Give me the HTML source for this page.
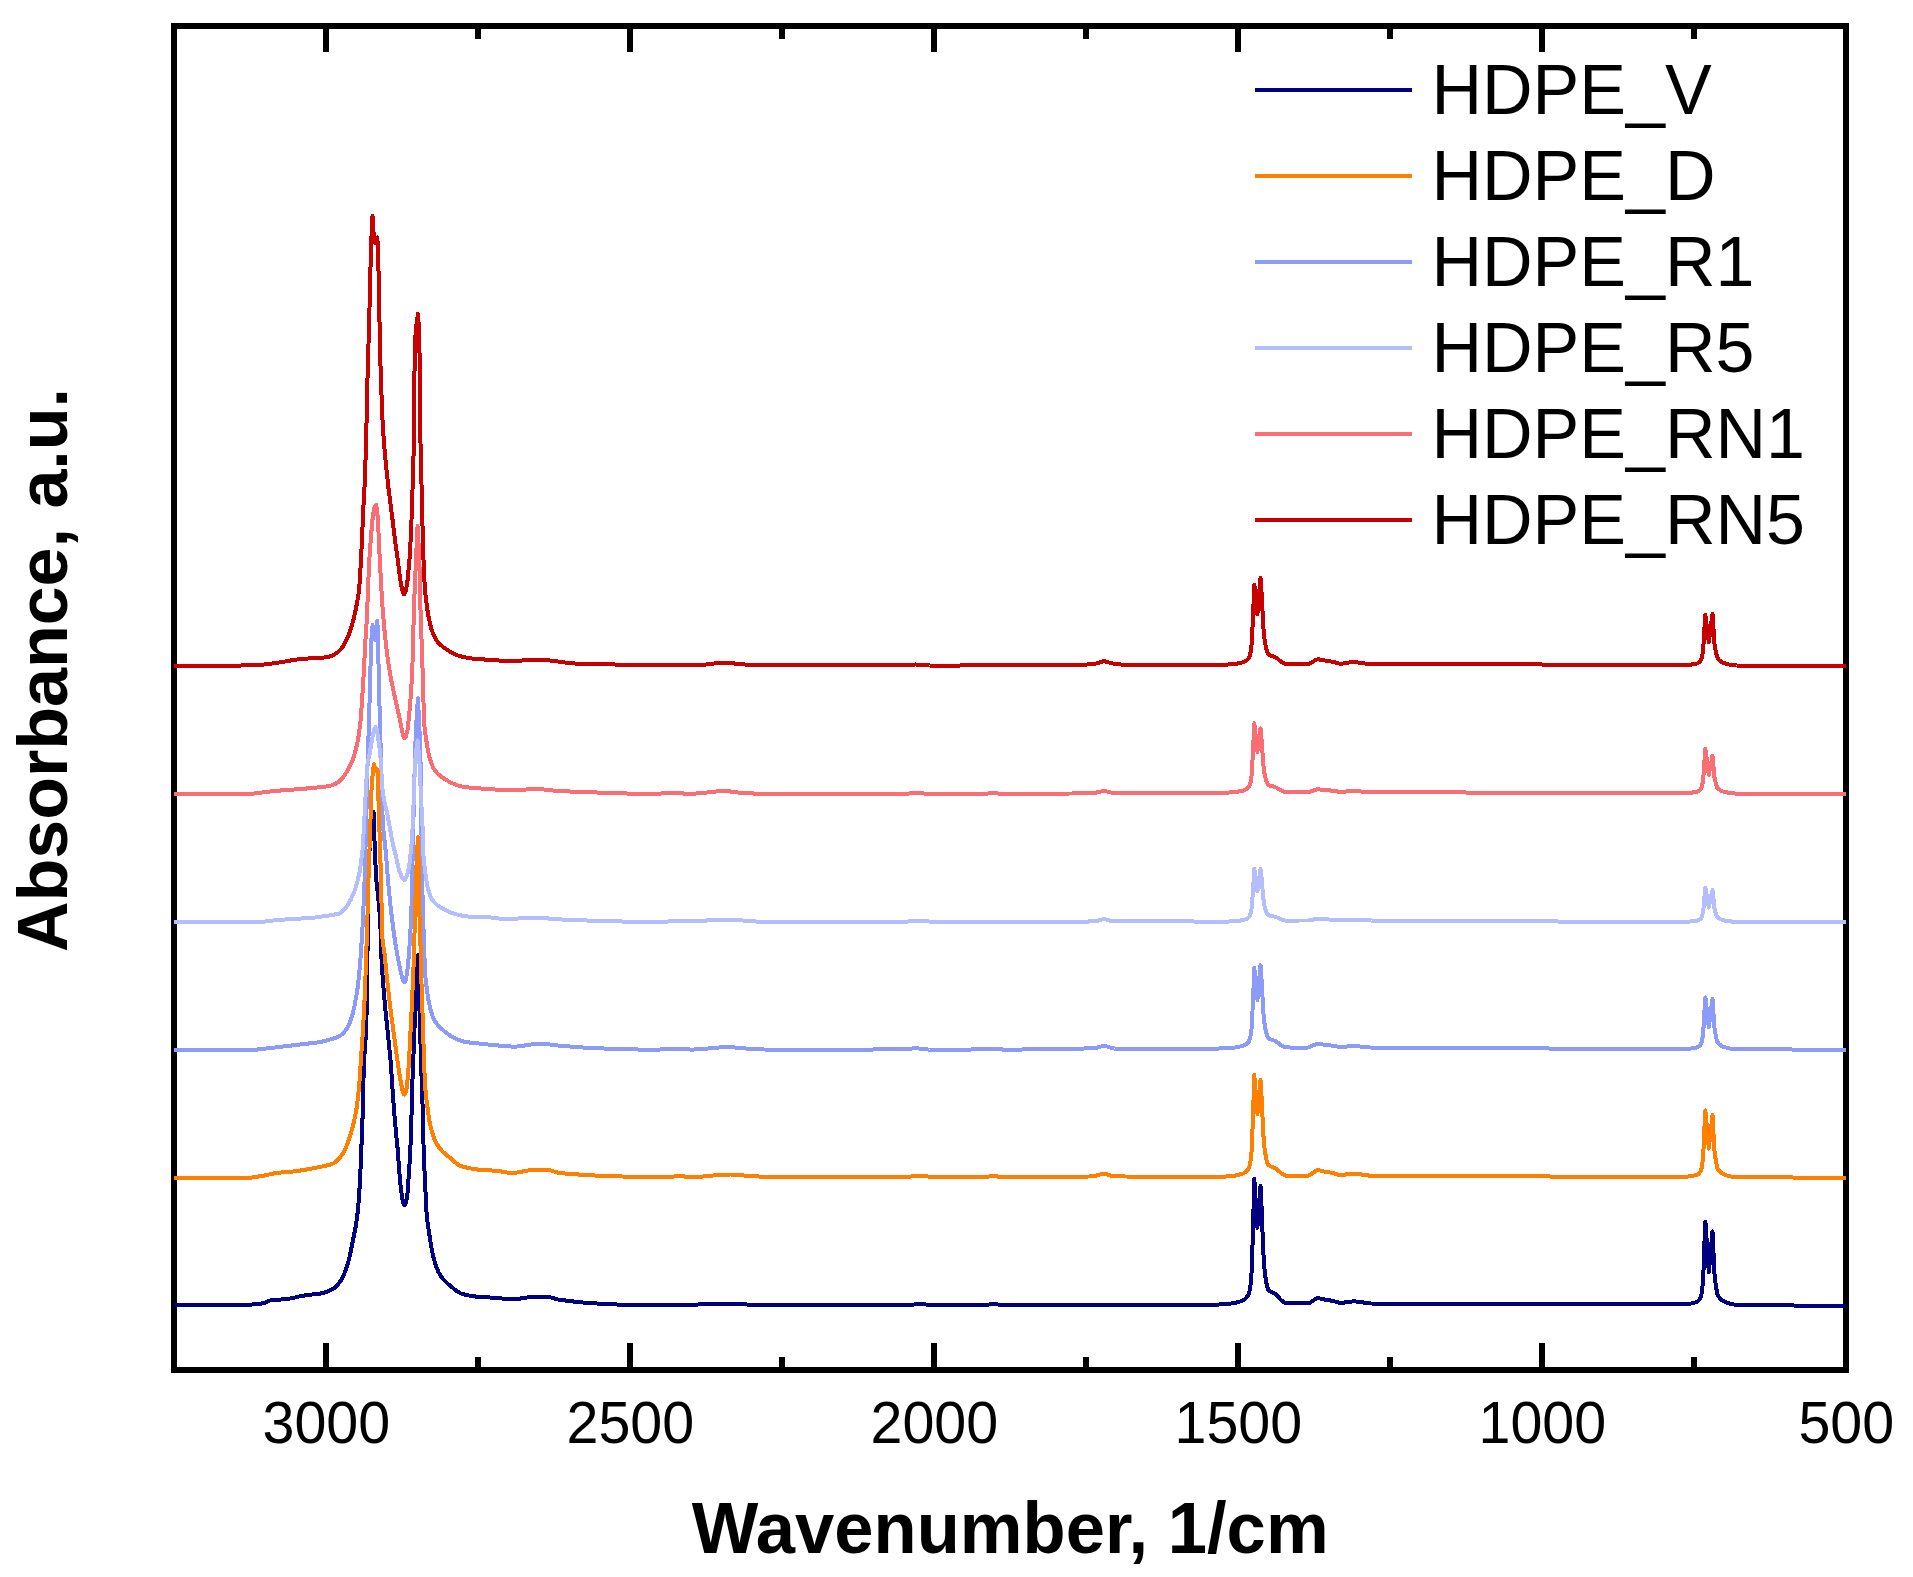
<!DOCTYPE html>
<html lang="en"><head><meta charset="utf-8"><title>FTIR spectra of HDPE samples</title>
<style>html,body{margin:0;padding:0;background:#fff}body{width:1913px;height:1577px;overflow:hidden}svg{display:block}</style>
</head><body>
<svg width="1913" height="1577" viewBox="0 0 1913 1577">
<rect width="1913" height="1577" fill="#fff"/>
<g fill="none" stroke="#000" stroke-width="6" shape-rendering="crispEdges">
<rect x="174" y="26" width="1672" height="1344"/>
<path d="M326 1370V1343M326 26V52M630 1370V1343M630 26V52M934 1370V1343M934 26V52M1238 1370V1343M1238 26V52M1542 1370V1343M1542 26V52M478 1370V1357M478 26V39M782 1370V1357M782 26V39M1086 1370V1357M1086 26V39M1390 1370V1357M1390 26V39M1694 1370V1357M1694 26V39"/>
</g>
<g fill="none" stroke-width="4" stroke-linejoin="round" stroke-linecap="butt" shape-rendering="crispEdges">
<path stroke="#8c9af8" d="M174 1050.5L239.2 1050.4L245.8 1050.4L249 1050.3L255 1049.8L273.2 1047.7L299.8 1044.5L312 1043.1L317.2 1042.5L321.5 1041.8L324.8 1041L335 1038.1L337 1037.4L338.8 1036.5L340.2 1035.6L341.5 1034.7L343 1033.3L344.2 1032L346.5 1029.1L347.5 1027.5L348.5 1025.5L349.8 1022.6L350.8 1020L351.8 1016.8L352.8 1013.2L354.5 1005.8L356.5 995L357.8 986.5L358.8 977.8L360 964.4L361.2 948.5L362.2 932.9L363.2 914L364.5 882.6L366.2 823.9L367.5 766.4L369.2 715L370.8 655.3L371.7 634L372.6 625L375 640L377.4 620.9L378.1 645.5L379.1 691.2L381.2 768.1L382 800.6L382.5 814.4L383 824.5L383.8 833.9L385.2 846.8L385.8 851.9L387.8 877.7L388.5 886.1L390 901.1L391.5 914.4L393.5 930.4L395.2 942.5L397.2 954.2L400 968.4L401.5 975.2L402.5 979L403 980.4L403.8 981.7L404.2 982.1L404.5 982L404.8 981.8L405.2 981L405.8 979.9L406.2 977.9L407.2 972L408.2 962.9L409.2 950.6L411 921.5L411.3 915L414.5 773.7L415.2 748.8L416.2 725L417.9 698.3L419.3 725L420 743.4L420.5 761.1L421 789.9L421.7 851L422 869.9L422.5 894.4L423 913.2L423.8 937.7L424.8 965.9L425.2 975L426 982.7L428.2 999L429.8 1006.4L431 1011.2L432.5 1016L433.5 1018.5L435 1021.2L437 1024.1L438.5 1025.8L440 1027.4L443 1030.1L448.5 1034.5L451.8 1036.6L455.2 1038.5L458.5 1039.9L462.2 1041.2L465.5 1041.9L470.2 1042.6L489.8 1044.7L504.8 1046.1L510.8 1046.5L515 1046.6L517.5 1046.5L520.2 1046.2L526.2 1045.2L534.2 1044.1L536.5 1044L541 1044.1L549.5 1044.4L558.8 1045.6L563.5 1046L576.8 1047.1L588.5 1047.9L619.5 1049.1L631.8 1049.4L642.8 1049.6L655.5 1049.6L670 1049.3L678.2 1048.7L681 1048.6L683.5 1048.7L689.8 1049.5L693 1049.6L704.5 1048.8L719.8 1047.4L723.5 1047.2L726.8 1047.1L732.8 1047.3L745.8 1048.5L757.2 1049.2L764 1049.5L769.8 1049.6L846 1049.6L905 1049.4L907.5 1049.2L913.2 1048.3L915.5 1048.2L918.5 1048.4L926 1049.4L929.5 1049.6L959.8 1049.6L985 1049.4L987.2 1049.3L991.8 1048.7L993.7 1048.6L996 1048.7L1001.2 1049.4L1003.8 1049.6L1045.2 1049.4L1073.5 1049L1086.2 1048.4L1093 1048L1097 1047.6L1098.5 1047.3L1102 1046.2L1103.9 1046L1105 1046.1L1106.2 1046.3L1112 1048.1L1113.2 1048.4L1114.5 1048.5L1215.8 1048.6L1223.5 1048.4L1233.2 1047.7L1236.2 1047.4L1241.2 1046.3L1243.5 1045.7L1245.2 1044.9L1247 1043.7L1248.2 1042.3L1248.8 1041.6L1249.2 1040.6L1250.1 1038.3L1251.3 1032.2L1252.2 1017.4L1253.2 995.6L1254.3 967.8L1257.4 1000L1260.5 965.2L1261.3 975L1263.3 1011.6L1264.5 1023.5L1265.7 1030.5L1267 1035.7L1268.2 1037.9L1268.8 1038.5L1269.2 1038.8L1270.5 1039.4L1273.5 1040.3L1275 1040.9L1278 1042.8L1281.2 1045.4L1284 1046.8L1285.8 1047.4L1293.5 1047.6L1308.2 1047.5L1309.8 1047.1L1312.2 1045.8L1316 1044.2L1317 1043.8L1318 1043.7L1319.5 1043.8L1323 1044.5L1330.5 1045.4L1335.2 1046.1L1339.2 1047.1L1341 1047.2L1342.5 1047.1L1346.2 1046.6L1349.2 1046.3L1354 1046L1357 1046.2L1369.8 1047.5L1379.8 1047.6L1505.2 1048.2L1620 1049L1677.5 1049L1684.5 1048.9L1690.5 1048.6L1693 1048.1L1696 1047.7L1697.5 1047.2L1698.8 1046.4L1699.8 1045.5L1700.5 1044.6L1701.3 1043.2L1702.2 1040L1703 1033.9L1703.6 1026.4L1704.7 1006.6L1705.4 997.5L1708.8 1027.2L1712.5 999L1713.2 1008L1713.8 1019.7L1714.5 1028L1715.2 1032.7L1716.2 1037.6L1717.1 1041.3L1718.2 1043.1L1719.8 1044.6L1721 1045.6L1722 1046.2L1723.5 1046.8L1726.8 1047.8L1729.2 1048.4L1733.8 1049.2L1736.5 1049.4L1790 1049.4L1796 1049.8L1846 1049.8"/>
<path stroke="#b4befa" d="M174 922.2L250.8 922.1L256.8 922.1L259.8 922L264.2 921.6L277.5 920L292.2 919L309.2 918L314 917.6L319.5 916.9L328.8 915.6L337.2 914L339 913.6L340.2 913.1L341.2 912.5L342.2 911.6L344.8 908.8L346.5 906.6L347.8 904.8L349.2 902.3L350.8 899.5L353 894.8L354.8 890.4L356.5 884.8L358.2 878.1L359.8 871.2L362 854.6L362.8 847.4L363.2 839.5L366.8 774.1L367.4 765L368 761.2L369.5 754.5L372.5 736.8L374.2 729.5L375.5 727.2L376.8 729.5L378 736.8L379.8 750.1L380.8 760.4L382 782.5L382.5 789.5L383 793.5L383.8 798.3L384.8 803.3L386.8 811.4L387.5 814.8L391 834.4L392.1 840L393.2 845.1L395.8 855.4L398.2 866.9L399 869.8L399.8 872L400.8 874.5L402.2 877.7L402.8 878.7L403.2 879.3L403.8 879.8L404.2 880.1L404.5 880L404.8 879.8L405.8 878.3L407.5 873.4L408.5 869.8L409 867.3L409.8 861.3L411.5 844.8L412.2 834.7L412.8 824.6L414.5 777.3L415.5 758.5L416 752L417.6 740.4L418.7 752L419.8 768.9L421.2 801.6L422.5 825.4L422.8 832.9L423.1 850L423.5 856.3L425.2 872.1L426 877.9L427.2 885.5L428.2 889.7L429 892.3L430 895L431.2 897.7L432.5 900L433.5 901.4L435 903.1L436.5 904.5L438.2 905.8L440.2 907.2L442.5 908.4L449.2 911.8L452.2 913.1L455.2 914.1L458.5 914.9L462.2 915.7L465.8 916.2L468 916.5L472 916.7L490.2 917.4L493.2 917.7L500 918.7L503.2 919L510.5 918.9L528 918L532 917.9L537 918L546.2 918.3L557 919.3L583.5 920.4L610.8 921.3L627.2 921.6L668.2 921.5L702 921.3L703.5 921.2L707 920.4L708.8 920.2L737.7 920.2L742.2 920.4L753.5 921.4L758.8 921.6L905.2 921.6L908.5 921.5L916 921L919 920.9L921.8 921L928.8 921.5L931.8 921.6L1086.2 921.6L1091.2 921.4L1097.2 920.9L1098.8 920.5L1102 919.5L1103 919.3L1103.9 919.2L1106 919.5L1110 920.6L1111.5 920.9L1115.8 921.1L1120 921.3L1129.8 921.2L1153.8 920.7L1164.2 920.6L1174.2 920.8L1196.5 921.6L1210.5 921.9L1219.8 921.8L1232.8 921.4L1236.2 921.1L1241.2 920.4L1243.5 920L1245.2 919.5L1247 918.7L1248.2 917.8L1249.2 916.6L1250.1 915.1L1251.3 911.1L1252.2 901.4L1253.2 887.1L1254.3 868.9L1257.4 891.2L1260.5 868.9L1261.3 875.1L1263.3 898.3L1264.5 905.9L1265.7 910.3L1267 913.6L1268.2 915L1269.2 915.5L1270.5 915.9L1273.5 916.4L1275 916.8L1278 917.9L1281.2 919.5L1284 920.3L1285.8 920.7L1299.8 920.5L1308.2 920.5L1309.8 920.3L1316 919L1318 918.8L1323 919.2L1330.8 919.6L1340.8 920.4L1349.8 919.9L1354.2 919.8L1371.5 920.5L1575.5 921.6L1622.2 921.8L1676.2 921.8L1683.8 921.7L1690.5 921.5L1696 920.9L1697.5 920.6L1698.8 920.1L1699.8 919.5L1700.5 918.9L1701.3 918L1702.2 915.9L1703 911.8L1703.6 906.9L1704.7 893.8L1705.4 887.8L1708.8 907.6L1712.5 889.8L1713.2 895.6L1713.8 903L1714.5 908.4L1715.2 911.4L1716.2 914.4L1717.1 916.8L1718.2 918L1720.8 919.4L1721.8 919.8L1723 920.2L1725.5 920.7L1729.2 921.3L1733.5 921.7L1736.5 921.8L1846 921.8"/>
<path stroke="#000080" d="M174 1304.6L250 1304.6L254.5 1304.4L259.2 1303.9L264.5 1303L265.8 1302.5L269 1300.8L270.4 1300.4L274.5 1299.9L284 1299.3L288 1298.9L292.2 1298.1L301 1296.1L305 1295.4L308.8 1294.9L316.8 1294L320.5 1293.5L324.5 1292.6L328.5 1291.2L330.8 1290.1L332.8 1289.1L334 1288.3L335 1287.6L336.2 1286.4L337.8 1284.7L339 1283.2L340.5 1281L341.8 1279.1L342.5 1277.7L344.2 1273.8L345.5 1270.5L347 1266L348 1262.8L349 1259L350.8 1251L355.8 1225.9L356.8 1219.6L357.8 1210.9L358.8 1199.4L359.5 1188.9L360.5 1169.6L362.2 1127.7L362.8 1110.7L363.8 1065L364.2 1057L365 1048L365.4 1041.9L366 1029.9L366.5 1016.5L367 995.6L368 909.6L368.5 878.2L368.8 865L369.2 855.6L370 844.7L371.5 830L373.5 811.7L374.5 841.2L376 876.7L378.6 902.1L379.5 911.7L380 918.4L380.5 929.2L381.5 958.7L382.8 979.1L385 1005.7L389.2 1047L390.5 1060.2L391.2 1069.6L393 1096.5L394 1109.6L396 1133L396.8 1141.2L397.8 1150L398.8 1165.2L400 1180.4L401 1189.8L402.2 1197.9L403.2 1202.9L403.8 1204.1L404.2 1204.9L404.5 1205L404.8 1204.9L405.2 1204.2L405.8 1203.2L406.2 1201.5L407 1197.5L407.5 1192.9L409.2 1170.3L410.8 1139.1L411.2 1126.8L412.9 1065L413.8 1048.7L415.2 1008.1L417.9 955.1L418.6 981L421.2 1066.6L422.5 1103.9L423.5 1144.4L424 1159.7L424.8 1177L426.5 1211.9L427 1218.1L427.8 1224.6L431 1245.1L432 1250.7L433 1255.5L434.2 1260.2L435.8 1265.1L437.2 1269.2L438.5 1272.1L440 1274.8L442 1277.7L444 1280.1L446.5 1282.6L452.5 1287.7L456.2 1290.7L459.2 1292.6L460.8 1293.4L462 1293.9L465 1294.7L468.5 1295.4L472.2 1296.1L476.2 1296.6L482.8 1297.1L496.8 1297.9L507.2 1299.1L511.5 1299.4L514 1299.4L516.8 1299.1L530 1297L532.5 1296.6L547 1296.6L548.2 1296.8L549.8 1297.1L556.2 1299.1L559.2 1299.7L573.5 1301.5L585.8 1302.8L594.5 1303.4L614.5 1304.4L629 1305L641.8 1305.3L663.8 1305.3L690.2 1305L694.5 1304.8L703.5 1304.1L707.5 1303.8L731.5 1303.6L739.2 1303.6L746.8 1304.5L752.5 1304.7L770.8 1305.1L789 1305.3L905.2 1305.3L909 1305.1L917.5 1304.1L921 1303.9L923.8 1304.1L930 1305.2L931.5 1305.3L934 1305.3L958.2 1305.2L981 1304.9L986 1304.8L991.5 1304.3L993.7 1304.2L996 1304.3L1001 1304.8L1003 1304.9L1215.5 1304.6L1219 1304.5L1223 1304.2L1229.2 1303.7L1233 1303.3L1236.2 1302.7L1241.2 1301.1L1243.5 1300L1245.2 1298.8L1246.2 1297.8L1247 1296.9L1248.2 1294.8L1248.8 1293.6L1249.2 1292.1L1250.1 1288.5L1251.3 1279L1252.2 1256L1253.2 1221.9L1254.3 1178.6L1257.4 1227.8L1260.5 1186L1261.3 1200L1263.3 1252L1264.5 1268.9L1265.7 1278.9L1267 1286.3L1268.2 1289.5L1268.8 1290.3L1269.2 1290.8L1270.5 1291.6L1273.5 1292.9L1275 1293.8L1276.5 1295.1L1278 1296.5L1280.5 1299.5L1281.2 1300.3L1284 1302.3L1285 1302.8L1285.8 1303.1L1288.5 1303.3L1293.2 1303.4L1308.2 1303.4L1309 1303.2L1309.8 1302.8L1312.2 1301.1L1316 1298.8L1317 1298.4L1318 1298.2L1319.5 1298.4L1323 1299.3L1328 1300L1331 1300.6L1335.5 1301.6L1339 1302.7L1340.5 1303L1342.5 1302.9L1346.5 1302.1L1350 1301.7L1352.2 1301.5L1354.2 1301.4L1357.2 1301.6L1369.5 1303.4L1371.2 1303.5L1377 1303.6L1417.5 1303.8L1633.5 1304.4L1678 1304.4L1684.8 1304.2L1690.5 1303.7L1693 1303L1696 1302.3L1696.8 1302L1697.5 1301.4L1698.8 1300.2L1699.8 1298.8L1700.5 1297.4L1701.3 1295L1702.2 1290L1703 1280L1703.6 1268L1704.7 1236.1L1705.4 1221.5L1708.8 1272.5L1712.5 1231.4L1713.2 1244.6L1713.8 1261.6L1714.5 1273.8L1715.2 1280.6L1716.2 1287.7L1717.1 1293.2L1718.2 1295.8L1719.5 1297.6L1720.5 1298.9L1721.5 1299.9L1722.8 1300.7L1725 1301.9L1729 1303.4L1733.5 1304.4L1736.5 1304.8L1790 1304.8L1791.2 1304.9L1794.5 1305.6L1796 1305.8L1846 1305.8"/>
<path stroke="#ff8000" d="M174 1178.1L235 1178L245.5 1178L248.2 1177.9L251 1177.7L254.2 1177.2L264.2 1175.6L266.5 1175.1L272 1173.8L274.5 1173.3L280 1172.6L294 1171.4L298.8 1170.8L303.8 1170L310.5 1168.8L325.5 1165.8L329.8 1164.7L333.5 1163.3L335 1162.4L336.5 1161.1L338.2 1159.3L340.5 1156.8L341.8 1155.2L342.8 1153.6L344 1151.5L345 1149.5L346.2 1146.8L347.5 1143.6L350 1136.4L352.2 1128.8L354 1121.6L355.8 1112.9L357 1105.2L358.2 1095.5L359.2 1085.2L362.8 1032.6L363.8 1014.9L364.8 994.6L365.5 976.1L367.2 926.4L368.5 878.4L370.8 810.3L371.5 790.4L372.7 773L374 764L375.7 771L377.5 769.5L380.8 872.4L382.2 932L382.6 940.4L383 943.9L384 949.3L384.5 953.3L387 978.5L388 987.7L390 1005.2L391.8 1019.1L398 1064.7L400.2 1078.8L402.2 1089.2L403 1092L403.8 1093.9L404.2 1094.6L404.5 1094.6L404.8 1094.4L405 1094L405.5 1092.8L406 1091.3L406.8 1086.9L407.5 1080.6L408.2 1072.1L409 1061.6L411.8 1006L413.5 967.3L414.2 945.5L415 913.8L415.8 887.1L416.5 865L417.9 837.1L418.7 865L419.3 910L419.8 925.7L420.7 950.6L421.7 991.2L423.2 1031.8L424 1062L424.8 1078.8L425.5 1090.4L426.2 1097.9L427.8 1109.7L428.8 1116.8L429.5 1121.3L430.8 1127.4L431.8 1131.3L433 1135.3L434.5 1139.2L436 1142.4L437.8 1145.5L438.8 1147L440 1148.6L441.5 1150.3L443 1151.9L445.8 1154.4L450.8 1158.4L455 1162.4L457.5 1164.2L459.5 1165.4L461 1166.1L463.2 1166.8L470.8 1168.5L475.2 1169.3L480.8 1169.8L496.5 1170.8L499.8 1171.2L507.2 1172.5L511 1172.8L513.8 1172.9L516.5 1172.6L529.5 1170.2L532.2 1169.8L533.8 1169.7L546.8 1169.7L548.2 1169.9L550 1170.2L556 1172.2L558.5 1172.8L562.5 1173.3L571.5 1174L583.8 1174.9L594.8 1175.5L622 1176.5L641 1177L654.2 1177L670 1176.8L677.5 1176.3L680 1176.2L682.5 1176.3L688.8 1177L693.8 1176.9L703.2 1176.5L715.5 1175.3L725 1174.7L730.6 1174.5L734.5 1174.7L744 1175.5L758.5 1176.5L765.8 1176.9L771.8 1177L905.2 1177L909 1176.8L917.5 1175.7L920.8 1175.5L923.5 1175.7L929.2 1176.8L931.5 1177L960.5 1177L985 1176.8L987 1176.7L991.8 1176.3L993.7 1176.2L995.8 1176.3L1000.5 1176.9L1002.8 1177L1060.5 1176.8L1086 1176.6L1088.8 1176.5L1095.5 1175.7L1097 1175.4L1101.5 1174.1L1102.8 1173.9L1103.9 1173.8L1105.2 1173.9L1106.5 1174.2L1111.5 1175.8L1113.8 1176.2L1125.2 1176.5L1164 1176.9L1215.5 1177L1222.8 1176.7L1229.2 1176.3L1232.8 1176L1236.2 1175.4L1241.2 1174.1L1243.5 1173.3L1245.2 1172.3L1247 1170.8L1248.2 1169.1L1248.8 1168.1L1249.2 1166.9L1250.1 1163.9L1251.3 1156.3L1252.2 1137.6L1253.2 1110.1L1254.3 1075L1257.4 1114L1260.5 1080L1261.3 1091.4L1263.3 1134L1264.5 1147.8L1265.7 1155.9L1267 1162L1268.2 1164.6L1268.8 1165.2L1269.2 1165.6L1270.5 1166.3L1273.5 1167.3L1275 1168.1L1278 1170.2L1281.2 1173.3L1284 1175L1285 1175.4L1285.8 1175.6L1289 1175.8L1294.2 1175.8L1308.2 1175.7L1309 1175.4L1309.8 1175.1L1312.2 1173.3L1316 1170.9L1317 1170.4L1318 1170.2L1319.5 1170.4L1323 1171.4L1328 1172.1L1330.5 1172.6L1335.2 1173.7L1339.2 1175.1L1341 1175.3L1342.5 1175.2L1346.2 1174.4L1349.2 1174L1352 1173.6L1354 1173.6L1357 1173.8L1367.5 1175.4L1370 1175.7L1374.2 1175.8L1383.8 1176L1505.8 1176.3L1629.5 1176.9L1678 1176.9L1684.8 1176.7L1690.5 1176.4L1693 1175.7L1696 1175.2L1696.8 1175L1697.5 1174.5L1698.8 1173.6L1699.8 1172.4L1700.5 1171.3L1701.3 1169.4L1702.2 1165.3L1703 1157.3L1703.6 1147.7L1704.7 1122.1L1705.4 1110.4L1708.8 1148.6L1712.5 1114.9L1713.2 1126.1L1713.8 1140.6L1714.5 1150.9L1715.2 1156.7L1716.2 1162.7L1717.1 1167.4L1718.2 1169.6L1719.5 1171.2L1720.8 1172.4L1721.8 1173.2L1723.2 1174.1L1726.5 1175.3L1729.2 1176.2L1733.8 1177L1736.5 1177.3L1790 1177.3L1796 1177.7L1846 1177.7"/>
<path stroke="#fa6e73" d="M174 793.9L251.8 793.8L256.2 793.3L266 791.9L274.8 791L284 790.2L301.2 789L322.5 787L326.8 786.4L329.8 785.8L333.2 784.8L335.5 783.8L338.2 782.1L340 780.7L342.2 778.3L344.5 775.4L347.8 770.3L350.2 765.6L351.5 762.8L352.5 760.3L354.2 755.2L356 748.8L357.8 740.8L358.8 734.9L360.2 723.3L360.8 718.4L361.2 712L362.8 689.3L364 668.2L365.4 640.7L366.8 619.6L367.2 609.6L369 565L369.8 552.8L371.2 534L373 514.3L374 509.3L375.1 506L376.1 504.9L376.9 508.5L378 521L379.2 547.6L381 582L381.8 595.5L382.5 606.7L384.2 627.7L386.2 646.7L387.2 654.9L388.5 663.8L389.8 671.5L391.2 679.8L393.2 689.7L399.5 717.9L403.2 736.3L403.8 737.4L404.2 738.1L404.5 738.2L404.8 738.1L405 737.9L405.6 736.9L406 735.9L407 732.4L407.4 730.6L408 726.1L409.2 714.6L410.5 698.8L411.8 679.2L412.5 663.4L413.2 634.6L414.8 585.1L415.6 569L417.2 533L417.6 526L418.1 533L419.7 571.3L420.5 609.7L422.8 676.7L424 720L424.5 726.7L425.2 733.1L426 738.5L427.5 747.7L428.2 751.8L429.2 756.2L430.2 759.9L431.5 763.6L432.5 766.1L433.5 768.2L435 770.5L436.5 772.4L438.8 774.6L441.2 776.7L445 779.2L448.8 781.5L452 783.1L456.5 785L459.2 785.9L462.5 786.6L467 787.3L472.2 787.9L501 789.9L507.8 790L520.2 789.8L531.5 789.2L539.2 789.3L546.5 789.6L554 790.6L556.5 790.8L572 791.6L622.2 793.4L634.2 793.7L644.5 793.9L653.8 793.8L670 793.1L677 792.9L679.8 793.1L686.2 793.8L690.5 793.9L694.5 793.6L703.8 792.9L717.5 791.3L723.2 791L726 791.1L729 791.3L739.8 792.7L744 793.1L758 793.7L769.2 793.9L905 793.8L907.5 793.7L913.2 793L915.5 792.9L918.5 793L926 793.7L929.5 793.9L985.2 793.8L987.2 793.6L991.8 793L993.7 792.9L995.2 793L999.2 793.7L1001 793.8L1036.5 793.7L1072.2 793.5L1083.8 793.3L1093 792.9L1098.2 792.3L1102.2 791.2L1103.9 791L1106 791.2L1109.8 792.2L1111.5 792.6L1122.8 792.9L1215.8 793L1223.2 792.8L1233 792.3L1236.2 791.9L1241.2 791L1243.5 790.5L1245.2 789.8L1247 788.8L1248.2 787.6L1249.2 786.1L1250.1 784.1L1251.3 778.8L1252.2 766.1L1253.2 747.2L1254.3 723.2L1257.4 752L1260.5 728.3L1261.3 735.9L1263.3 764.3L1264.5 773.5L1265.7 778.9L1267 783L1268.2 784.7L1269.2 785.4L1270.5 785.9L1273.5 786.5L1275 787L1278 788.5L1281.2 790.5L1284 791.6L1285.8 792L1293.5 792.2L1308.2 792.1L1309.8 791.8L1316 789.6L1317 789.4L1318 789.3L1319.5 789.4L1323 789.9L1330.5 790.5L1335.2 791.1L1339.2 791.8L1341 791.9L1342.5 791.9L1346.2 791.5L1349.2 791.2L1354 791L1357 791.2L1369.8 792.1L1380.8 792.3L1505.8 792.6L1624.8 793.2L1677.8 793.2L1684.5 793.1L1690.5 792.9L1693 792.4L1696 792.1L1697.5 791.6L1698.8 791L1699.8 790.2L1700.5 789.5L1701.3 788.2L1702.2 785.5L1703 780.2L1703.6 773.8L1704.7 756.7L1705.4 748.9L1708.8 774.8L1712.5 755.6L1713.2 762.4L1713.8 771.2L1714.5 777.4L1715.2 781L1716.2 784.6L1717.1 787.4L1718.2 788.8L1720.5 790.4L1721.5 790.9L1722.8 791.4L1725 792L1729 792.8L1733.5 793.4L1736.5 793.6L1790 793.6L1796 793.8L1846 793.8"/>
<path stroke="#c80000" d="M174 665.8L234.2 665.6L248.8 665.4L256.8 665.2L264.2 664.5L276.2 663L280.5 662.3L291 660.4L296.5 659.6L307.8 658.5L312.2 658.2L321 657.8L325 657.4L328.8 656.7L330.5 656.2L331.8 655.7L333.5 654.9L335.5 653.7L338 651.9L340.5 649.5L342.8 646.6L345 643L347.2 638.5L349.5 632.8L352.2 624.1L353.8 618.6L355.2 612L357 603.3L358.8 592.2L359.2 588L360 577.6L361.5 549.5L363.5 505.1L364 495.2L364.8 483L365.2 470.9L366.6 420L367.8 365.7L369 328.4L370.8 255.6L371.6 234L372.5 215.7L373.6 233L375 243L377.3 237.5L378.2 255L379.8 336.7L380.2 357.2L382.2 413.9L383 429L384 443.4L386 465.6L388.5 488.3L392.8 521.7L395 540.5L397.8 560.3L400 578L401.2 585.3L402 588.7L402.8 591.5L403.2 592.8L403.8 594L404.1 594.3L404.5 594L405.2 592.4L405.8 590.6L407 584.1L407.8 578.5L409.5 558.8L410.2 548L411 533L411.5 520.2L412.5 490.1L413.8 446.8L414.1 428L414.6 360L415 345.7L415.5 334.6L416.1 326.8L417.9 313.9L418.8 325L419.7 360L420.2 425L420.5 443.4L422.8 537.5L423.5 560L424.2 577.8L424.8 586.7L425.5 594.8L427.5 610.3L428.5 616.3L429.8 622.5L431 627.6L432 630.8L433.5 634.8L435 637.8L436.8 640.7L438.8 643.2L440.8 645.1L444 647.7L447.8 650.3L453.2 653.5L455.7 654.7L459.2 655.9L462.2 656.8L465.8 657.5L469.2 658.2L472.5 658.6L478.2 659.1L490.8 659.9L501.2 660.7L507.5 660.8L520.5 660.6L534.8 659.7L543.2 659.8L546 660L548.2 660.2L554.5 661.1L562.2 662L567.8 663.1L570 663.3L580.2 663.7L604.2 664.1L632.2 665.2L644.8 665.5L672.8 665.4L702.5 664.8L707.2 664.4L718.2 663L721 662.8L723.5 662.7L726.2 662.8L729.5 663L740.5 664.1L744.5 664.5L759 665.2L768.5 665.5L905 665.4L907.5 665.3L913.2 664.6L915.5 664.5L918.5 664.6L926 665.3L929.5 665.5L959.8 665.5L985 665.3L987.2 665.2L991.8 664.6L993.7 664.5L995.2 664.6L999.2 665.2L1001 665.3L1072.8 665.2L1077.2 665.1L1082.2 664.8L1090.2 664.3L1093.2 664L1097.5 663.3L1102 661.6L1103 661.4L1103.9 661.3L1105 661.4L1106.2 661.6L1110.2 662.9L1111.8 663.3L1117.5 664.2L1121.2 664.5L1180.8 664.5L1197.8 665L1215.5 665L1223.5 664.8L1229.8 664.4L1233.5 664.1L1236.5 663.7L1241.5 662.7L1243.5 662.1L1245.2 661.3L1247 660.1L1248.2 658.7L1248.8 658L1249.2 657L1250.1 654.7L1251.3 648.7L1252.2 633.9L1253.2 612.2L1254.3 584.5L1257.4 614.2L1260.5 578L1261.3 588.3L1263.3 626.4L1264.5 638.8L1265.7 646.1L1267 651.6L1268.2 653.9L1268.8 654.5L1269.2 654.8L1270.5 655.5L1273.5 656.4L1275 657.1L1278 659L1281.2 661.8L1284 663.3L1285.8 663.9L1289 664L1293.8 664.1L1308.2 664L1309 663.8L1309.8 663.5L1312.2 662L1316 659.9L1317 659.5L1318 659.3L1319.5 659.5L1323 660.3L1328 660.9L1330.5 661.4L1335.2 662.4L1339.2 663.5L1341 663.7L1342.5 663.6L1346.2 662.9L1349.2 662.5L1352 662.3L1354 662.2L1357 662.4L1367.5 663.8L1370 664L1383.8 664.3L1515 664.3L1604.8 665L1634 665.1L1678 665.1L1684.8 665L1690.5 664.7L1693 664.2L1696 663.8L1697.5 663.3L1698.8 662.6L1699.8 661.7L1700.5 660.8L1701.3 659.4L1702.2 656.3L1703 650.3L1703.6 643L1704.7 623.7L1705.4 614.8L1708.8 642.5L1712.5 613.9L1713.2 623.1L1713.8 635.1L1714.5 643.6L1715.2 648.5L1716.2 653.4L1717.1 657.2L1718.2 659.1L1719.5 660.4L1720.8 661.4L1721.8 662.1L1723.2 662.8L1726.5 663.8L1729.2 664.5L1733.8 665.3L1736.5 665.5L1790 665.5L1796 665.9L1846 665.9"/>
</g>
<g font-family="'Liberation Sans', Arial, sans-serif" font-size="57.4" text-anchor="middle" fill="#000">
<text transform="translate(326.3 1442.6) scale(1 1.02)">3000</text>
<text transform="translate(630.3 1442.6) scale(1 1.02)">2500</text>
<text transform="translate(934.3 1442.6) scale(1 1.02)">2000</text>
<text transform="translate(1238.3 1442.6) scale(1 1.02)">1500</text>
<text transform="translate(1542.3 1442.6) scale(1 1.02)">1000</text>
<text transform="translate(1846.3 1442.6) scale(1 1.02)">500</text>
</g>
<g font-family="'Liberation Sans', Arial, sans-serif" font-size="70" font-weight="bold" fill="#000">
<text transform="translate(1010.2 1553.1) scale(1 1.015)" text-anchor="middle" font-size="70.6">Wavenumber, 1/cm</text>
<text transform="translate(67.2 670) rotate(-90) scale(1 1.01)" text-anchor="middle">Absorbance, a.u.</text>
</g>
<g font-family="'Liberation Sans', Arial, sans-serif" font-size="70" fill="#000">
<path d="M1255 90.0H1412" stroke="#000080" stroke-width="4" shape-rendering="crispEdges"/>
<text x="1431.5" y="113.7">HDPE_V</text>
<path d="M1255 176.0H1412" stroke="#ff8000" stroke-width="4" shape-rendering="crispEdges"/>
<text x="1431.5" y="199.7">HDPE_D</text>
<path d="M1255 261.9H1412" stroke="#8c9af8" stroke-width="4" shape-rendering="crispEdges"/>
<text x="1431.5" y="285.6">HDPE_R1</text>
<path d="M1255 347.9H1412" stroke="#b4befa" stroke-width="4" shape-rendering="crispEdges"/>
<text x="1431.5" y="371.6">HDPE_R5</text>
<path d="M1255 433.8H1412" stroke="#fa6e73" stroke-width="4" shape-rendering="crispEdges"/>
<text x="1431.5" y="457.5">HDPE_RN1</text>
<path d="M1255 519.8H1412" stroke="#c80000" stroke-width="4" shape-rendering="crispEdges"/>
<text x="1431.5" y="543.5">HDPE_RN5</text>
</g>
</svg>
</body></html>
